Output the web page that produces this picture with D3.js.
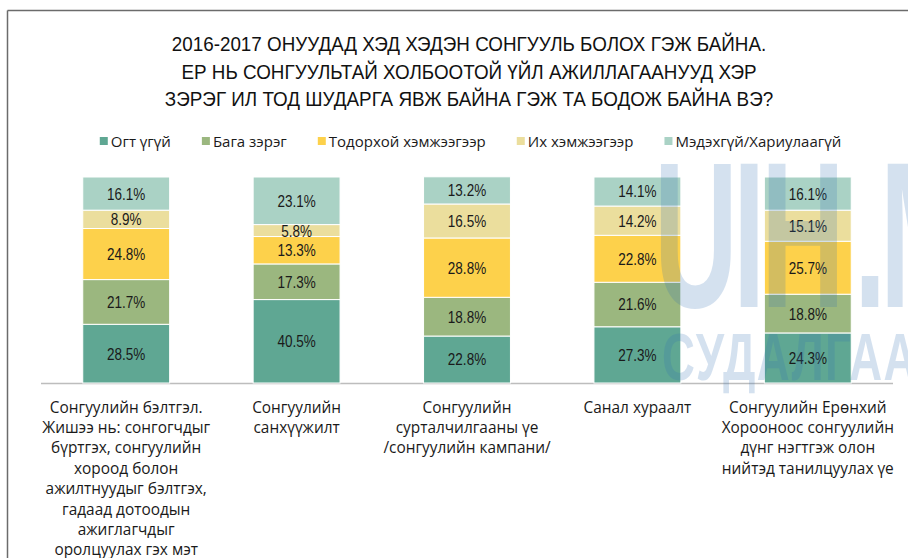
<!DOCTYPE html>
<html>
<head>
<meta charset="utf-8">
<script src="https://cdn.jsdelivr.net/npm/d3@7"></script>
<style>
  body { margin: 0; background: #fff; }
  svg { display: block; }
</style>
</head>
<body>
<div id="chart"></div>
<script>
const titleLines = [
  "2016-2017 ОНУУДАД ХЭД ХЭДЭН СОНГУУЛЬ БОЛОХ ГЭЖ БАЙНА.",
  "ЕР НЬ СОНГУУЛЬТАЙ ХОЛБООТОЙ ҮЙЛ АЖИЛЛАГААНУУД ХЭР",
  "ЗЭРЭГ ИЛ ТОД ШУДАРГА ЯВЖ БАЙНА ГЭЖ ТА БОДОЖ БАЙНА ВЭ?"
];

const categories = ["belteg", "sanhuu", "surtal", "sanal", "dun"];
const categoryLines = [
  ["Сонгуулийн бэлтгэл.", "Жишээ нь: сонгогчдыг", "бүртгэх, сонгуулийн", "хороод болон", "ажилтнуудыг бэлтгэх,", "гадаад дотоодын", "ажиглагчдыг", "оролцуулах гэх мэт"],
  ["Сонгуулийн", "санхүүжилт"],
  ["Сонгуулийн", "сурталчилгааны үе", "/сонгуулийн кампани/"],
  ["Санал хураалт"],
  ["Сонгуулийн Ерөнхий", "Хорооноос сонгуулийн", "дүнг нэгтгэж олон", "нийтэд танилцуулах үе"]
];

const seriesNames = ["Огт үгүй", "Бага зэрэг", "Тодорхой хэмжээгээр", "Их хэмжээгээр", "Мэдэхгүй/Хариулаагүй"];
const seriesColors = ["#5fa793", "#9bb77f", "#fdd14b", "#ebde9d", "#aad2c5"];

const ogtUgui   = [28.5, 40.5, 22.8, 27.3, 24.3];
const bagaZereg = [21.7, 17.3, 18.8, 21.6, 18.8];
const todorhoi  = [24.8, 13.3, 28.8, 22.8, 25.7];
const ihHemjee  = [8.9, 5.8, 16.5, 14.2, 15.1];
const medehgui  = [16.1, 23.1, 13.2, 14.1, 16.1];

const seriesValues = [ogtUgui, bagaZereg, todorhoi, ihHemjee, medehgui];

const width = 908, height = 558;
const narrow = "'Liberation Sans', Arial, sans-serif";
const body = "'Open Sans', 'Noto Sans', sans-serif";

const svg = d3.select("#chart").append("svg")
    .attr("width", width)
    .attr("height", height);

// frame lines at top and left
svg.append("line")
    .attr("x1", 7.5).attr("x2", width).attr("y1", 10.5).attr("y2", 10.5)
    .attr("stroke", "#6b6b6b").attr("stroke-width", 1.5);
svg.append("line")
    .attr("x1", 7.5).attr("x2", 7.5).attr("y1", 10.5).attr("y2", height)
    .attr("stroke", "#6b6b6b").attr("stroke-width", 1.5);

// title, squeezed horizontally to look like a narrow face
const titleG = svg.append("g");
const titleTexts = titleG.selectAll("text")
    .data(titleLines)
    .join("text")
    .attr("text-anchor", "middle")
    .attr("font-family", narrow)
    .attr("font-size", "20px")
    .attr("fill", "#111")
    .text(d => d);
const tScale = 595 / titleTexts.node().getComputedTextLength();
titleTexts.attr("transform", (d, i) => "translate(469," + (51 + i * 27.5) + ") scale(" + tScale + ",1)");

// table for stacking
const rows = categories.map((c, i) => {
  const r = { key: c };
  seriesNames.forEach((s, j) => { r[s] = seriesValues[j][i]; });
  return r;
});
const stacked = d3.stack().keys(seriesNames)(rows);

const x = d3.scaleBand()
    .domain(categories)
    .range([41, 893])
    .paddingInner(0.49)
    .paddingOuter(0.245);

const y = d3.scaleLinear().domain([0, 100]).range([383, 177]);

// baseline
svg.append("line")
    .attr("x1", 41).attr("x2", 893)
    .attr("y1", y(0) + 0.5).attr("y2", y(0) + 0.5)
    .attr("stroke", "#bdbdbd").attr("stroke-width", 1.5);

const layers = svg.append("g").selectAll("g")
    .data(stacked)
    .join("g")
    .attr("fill", (d, i) => seriesColors[i]);

layers.selectAll("rect")
    .data(d => d)
    .join("rect")
    .attr("x", d => x(d.data.key))
    .attr("width", x.bandwidth())
    .attr("y", d => y(d[1]))
    .attr("height", d => y(d[0]) - y(d[1]))
    .attr("stroke", "#fff")
    .attr("stroke-width", 1);

const labels = svg.append("g").selectAll("g")
    .data(stacked)
    .join("g");

labels.selectAll("text")
    .data(d => d.map(p => ({ p: p, v: p.data[d.key] })))
    .join("text")
    .attr("transform", d => "translate(" + (x(d.p.data.key) + x.bandwidth() / 2) + "," +
        ((y(d.p[0]) + y(d.p[1])) / 2) + ") scale(0.82,1)")
    .attr("dy", "0.36em")
    .attr("text-anchor", "middle")
    .attr("font-family", narrow)
    .attr("font-size", "16.5px")
    .attr("fill", "#1a1a1a")
    .text(d => d3.format(".1f")(d.v) + "%");

// watermark over the right side
const wm = svg.append("g")
    .attr("fill", "#2f6fb5")
    .attr("opacity", 0.2)
    .attr("font-family", narrow)
    .attr("font-weight", "bold");
const wmBig = "UIH.M";
const wmBigX = [662, 741, 769, 862, 888];
const sx = 0.56;
wm.append("text")
    .attr("transform", "translate(0,307) scale(" + sx + ",1)")
    .attr("font-size", "207px")
    .attr("x", wmBigX.map(v => (v - 8) / sx).join(" "))
    .text(wmBig);
wm.append("text")
    .attr("transform", "translate(662,380) scale(0.68,1)")
    .attr("font-size", "67px")
    .attr("letter-spacing", "2px")
    .text("СУДАЛГАА");

// category labels
const catG = svg.append("g").selectAll("g")
    .data(categories)
    .join("g")
    .attr("transform", d => "translate(" + (x(d) + x.bandwidth() / 2) + ",0)");

catG.selectAll("text")
    .data((d, i) => categoryLines[i])
    .join("text")
    .attr("x", 0)
    .attr("y", (d, i) => 412.5 + i * 20.4)
    .attr("text-anchor", "middle")
    .attr("font-family", body)
    .attr("font-size", "15.4px")
    .attr("fill", "#1a1a1a")
    .text(d => d);

// legend
const legend = svg.append("g");
let lx = 0;
seriesNames.forEach((name, i) => {
  const g = legend.append("g").attr("transform", "translate(" + lx + ",0)");
  g.append("rect")
      .attr("x", 0).attr("y", 137)
      .attr("width", 8).attr("height", 8)
      .attr("fill", seriesColors[i]);
  const t = g.append("text")
      .attr("x", 11).attr("y", 146.5)
      .attr("font-family", body)
      .attr("font-size", "15px")
      .attr("fill", "#1a1a1a")
      .text(name);
  lx += 11 + t.node().getComputedTextLength() + 31;
});
lx -= 31;
legend.attr("transform", "translate(" + (470.5 - lx / 2) + ",0)");
</script>
</body>
</html>
